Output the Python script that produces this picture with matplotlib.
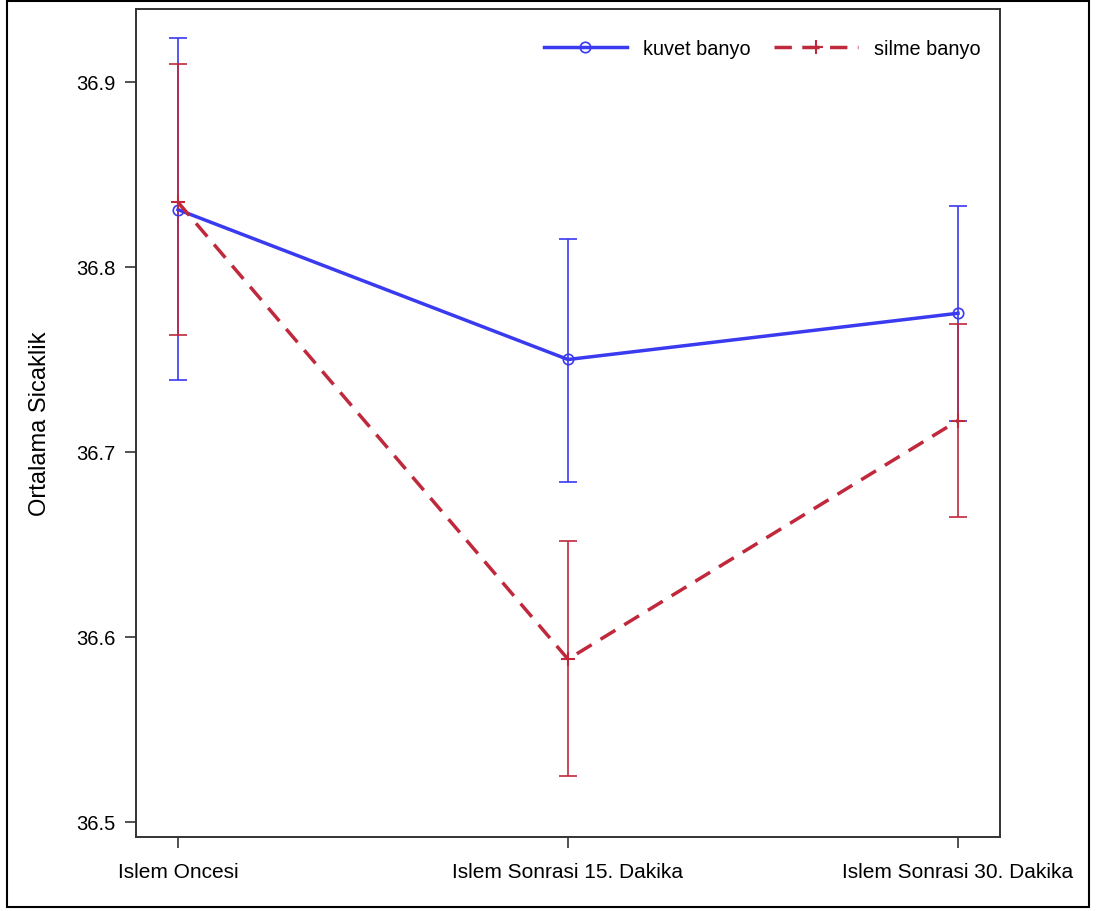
import numpy as np
import matplotlib.pyplot as plt
from matplotlib.patches import Rectangle

plt.rcParams['font.family'] = ['Liberation Sans', 'DejaVu Sans']

# data
categories = ["Islem Oncesi", "Islem Sonrasi 15. Dakika", "Islem Sonrasi 30. Dakika"]

kuvet_mean = [36.831, 36.750, 36.775]
kuvet_low = [36.739, 36.684, 36.717]
kuvet_high = [36.924, 36.815, 36.833]

silme_mean = [36.835, 36.588, 36.717]
silme_low = [36.763, 36.525, 36.665]
silme_high = [36.910, 36.652, 36.769]

yticks = [36.5, 36.6, 36.7, 36.8, 36.9]

blue = "#3a3af0"
red = "#c0283c"

fig = plt.figure(figsize=(10.96, 9.12), dpi=100)
ax = fig.add_axes([136/1096, 1 - 838/912, 864/1096, 828/912])

x = np.arange(len(categories))

# error bars
ax.errorbar(
    x, kuvet_mean,
    yerr=[np.array(kuvet_mean) - np.array(kuvet_low),
          np.array(kuvet_high) - np.array(kuvet_mean)],
    fmt="none", ecolor=blue, elinewidth=1.2, capsize=6.5, capthick=1.2,
    zorder=2
)
ax.errorbar(
    x, silme_mean,
    yerr=[np.array(silme_mean) - np.array(silme_low),
          np.array(silme_high) - np.array(silme_mean)],
    fmt="none", ecolor=red, elinewidth=1.2, capsize=6.5, capthick=1.2,
    zorder=2
)

# mean lines
ax.plot(
    x, kuvet_mean,
    color=blue, linewidth=2.5, marker="o", markersize=7.5,
    markerfacecolor="none", markeredgewidth=1.2,
    label="kuvet banyo", zorder=3
)
ax.plot(
    x, silme_mean,
    color=red, linewidth=2.5, linestyle=(0, (5, 3)), marker="+",
    markersize=10, markeredgewidth=1.5,
    label="silme banyo", zorder=3
)

ax.set_xlim(-42/390, 2 + 42/390)
ax.set_ylim(36.5 - 15/1850, 36.5 + 813/1850)

ax.set_xticks(x)
ax.set_xticklabels(categories, fontsize=15)
ax.set_yticks(yticks)
ax.set_yticklabels([f"{v:.1f}" for v in yticks], fontsize=14.5)

ax.tick_params(axis="both", length=8, width=1.2, color="#333333")
ax.tick_params(axis="x", pad=10)
ax.tick_params(axis="y", pad=7)

ax.set_ylabel("Ortalama Sicaklik", fontsize=17, labelpad=18)

for s in ax.spines.values():
    s.set_linewidth(1.4)
    s.set_color("#333333")

ax.legend(
    loc="upper right", frameon=False, fontsize=14.3, ncol=2,
    handlelength=4.2, columnspacing=1.2, handletextpad=0.8,
    bbox_to_anchor=(0.998, 0.985)
)

# outer frame of the graphic
fig.patches.append(Rectangle(
    (7/1096, 4/912), 1082/1096, 906/912,
    transform=fig.transFigure, fill=False, edgecolor="black", linewidth=1.5
))

plt.savefig("out.png", dpi=100)
